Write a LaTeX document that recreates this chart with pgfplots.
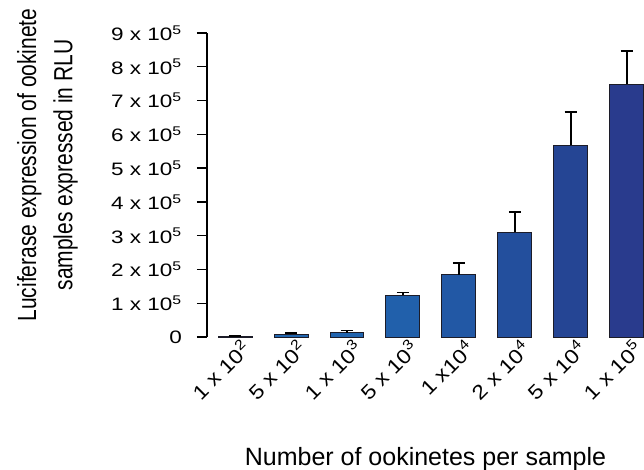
\documentclass[border=0pt]{standalone}
\usepackage{pgfplots}
\pgfplotsset{compat=1.18}
\usepackage{fontspec}
\setmainfont{Liberation Sans}
\usepackage{graphicx}
\definecolor{b1}{HTML}{2167B0}
\definecolor{b2}{HTML}{2166AF}
\definecolor{b3}{HTML}{2164AE}
\definecolor{b4}{HTML}{2160AB}
\definecolor{b5}{HTML}{2258A5}
\definecolor{b6}{HTML}{234F9D}
\definecolor{b7}{HTML}{254594}
\definecolor{b8}{HTML}{293B8D}
\definecolor{edge}{HTML}{1C1C28}
\newcommand\tl[2]{\scalebox{1.25}[1]{#1 x 10\textsuperscript{#2}}}
\newcommand\xl[2]{\scalebox{1.15}[1]{#1 x 10\textsuperscript{#2}}}
\newcommand\xlb[2]{\scalebox{1.15}[1]{#1 x10\textsuperscript{#2}}}
\begin{document}
\begin{tikzpicture}
\useasboundingbox (-207pt,-133pt) rectangle (437pt,337pt);
\begin{axis}[
  at={(0pt,0pt)}, anchor=south west,
  scale only axis, width=437pt, height=304pt,
  xmin=0.5, xmax=8.31, ymin=0, ymax=900000,
  clip=false,
  scaled y ticks=false,
  axis y line*=left, axis x line*=bottom,
  x axis line style={draw=none},
  xtick={1,...,8},
  xticklabels={\xl{1}{2},\xl{5}{2},\xl{1}{3},\xl{5}{3},\xlb{1}{4},\xl{2}{4},\xl{5}{4},\xl{1}{5}},
  x tick style={draw=none},
  ytick={0,100000,200000,300000,400000,500000,600000,700000,800000,900000},
  yticklabels={\scalebox{1.25}[1]{0},\tl{1}{5},\tl{2}{5},\tl{3}{5},\tl{4}{5},\tl{5}{5},\tl{6}{5},\tl{7}{5},\tl{8}{5},\tl{9}{5}},
  y tick style={line width=1.3pt, black},
  major tick length=10pt, tick align=outside,
  y axis line style={line width=1.5pt, black},
  ybar, bar width=0.607, bar shift=0pt,
  yticklabel style={font=\fontsize{18}{20}\selectfont, inner sep=0pt, xshift=-15pt},
  xticklabel style={font=\fontsize{20}{22}\selectfont, rotate=45, anchor=east, inner sep=0pt, xshift=10pt, yshift=-6pt},
  xlabel={Number of ookinetes per sample},
  xlabel style={font=\fontsize{25}{30}\selectfont, at={(rel axis cs:0.5,0)}, anchor=base, yshift=-128pt},
  ylabel={\scalebox{1}[1.25]{\fontsize{21}{29}\selectfont\begin{tabular}{@{}c@{}}Luciferase expression of ookinete\\samples expressed in RLU\end{tabular}}},
  ylabel style={at={(rel axis cs:-0.366,0.566)}, anchor=center},
  error bars/y dir=plus, error bars/y explicit,
  error bars/error bar style={line width=1.8pt, black},
  error bars/error mark options={rotate=90, mark size=6pt, line width=1.8pt, black},
]
\addplot[fill=b1, draw=edge, line width=0.8pt] coordinates {(1,1500) +- (0,700)};
\addplot[fill=b2, draw=edge, line width=0.8pt] coordinates {(2,8000) +- (0,4000)};
\addplot[fill=b3, draw=edge, line width=0.8pt] coordinates {(3,13000) +- (0,6000)};
\addplot[fill=b4, draw=edge, line width=0.8pt] coordinates {(4,124000) +- (0,8000)};
\addplot[fill=b5, draw=edge, line width=0.8pt] coordinates {(5,184000) +- (0,34000)};
\addplot[fill=b6, draw=edge, line width=0.8pt] coordinates {(6,310000) +- (0,61000)};
\addplot[fill=b7, draw=edge, line width=0.8pt] coordinates {(7,568000) +- (0,97000)};
\addplot[fill=b8, draw=edge, line width=0.8pt] coordinates {(8,749000) +- (0,97000)};
\end{axis}
\end{tikzpicture}
\end{document}
